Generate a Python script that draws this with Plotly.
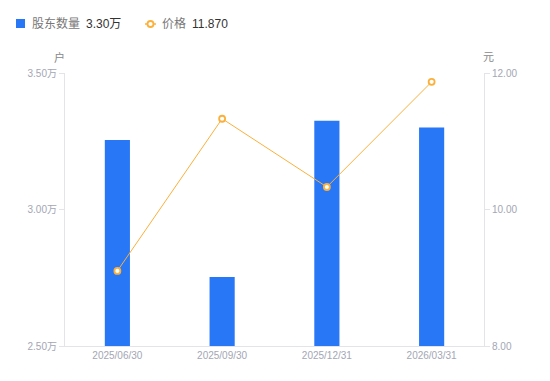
import plotly.graph_objects as go

dates = ["2025/06/30", "2025/09/30", "2025/12/31", "2026/03/31"]
holders = [3.255, 2.753, 3.325, 3.30]   # 万户
price = [9.10, 11.33, 10.33, 11.87]      # 元
left_ticks = [2.5, 3.0, 3.5]
left_labels = ["2.50万", "3.00万", "3.50万"]
right_ticks = [8, 10, 12]
right_labels = ["8.00", "10.00", "12.00"]

BLUE = "#2777F6"
ORANGE = "#FBB03B"
AXIS = "#E3E3E8"
TICK = "#A3A6B4"
FONT = "Liberation Sans, Noto Sans CJK SC, sans-serif"

W, H = 550, 381
OFF = 8  # page body margin
# plot area in screen pixels
SX0, SX1, SY0, SY1 = 65, 484, 73, 346
L, T = SX0 - OFF, SY0 - OFF
R, B = W - (SX1 - OFF), H - (SY1 - OFF)
pw, ph = SX1 - SX0, SY1 - SY0

def px(x):
    return (x - SX0) / pw

def py(y):
    return (SY1 - y) / ph

fig = go.Figure()
fig.add_trace(go.Bar(x=dates, y=holders, marker=dict(color=BLUE, line_width=0),
                     width=0.24, name="股东数量", yaxis="y"))
fig.add_trace(go.Scatter(x=dates, y=price, mode="lines+markers", name="价格", yaxis="y2",
                         line=dict(color=ORANGE, width=1),
                         marker=dict(size=6, color="white", line=dict(color=ORANGE, width=1.8))))

fig.update_layout(
    width=W, height=H, margin=dict(l=L, r=R, t=T, b=B),
    paper_bgcolor="white", plot_bgcolor="white", showlegend=False,
    font=dict(family=FONT, size=10, color=TICK),
    xaxis=dict(type="category", showgrid=False, showline=True, linecolor=AXIS, linewidth=1,
               ticks="", tickfont=dict(size=10, color=TICK), zeroline=False),
    yaxis=dict(range=[2.5, 3.5], tickvals=left_ticks, ticktext=left_labels, showgrid=False,
               showline=True, linecolor=AXIS, ticks="outside", ticklen=5, tickcolor=AXIS,
               tickfont=dict(size=10, color=TICK), zeroline=False),
    yaxis2=dict(range=[8, 12], tickvals=right_ticks, ticktext=right_labels, overlaying="y",
                side="right", showgrid=False, showline=True, linecolor=AXIS, ticks="outside",
                ticklen=5, tickcolor=AXIS, tickfont=dict(size=10, color=TICK), zeroline=False),
)

# axis unit titles
fig.add_annotation(text="户", xref="paper", yref="paper", x=px(59), y=py(57), showarrow=False,
                   font=dict(size=11, color="#888"), xanchor="center", yanchor="middle")
fig.add_annotation(text="元", xref="paper", yref="paper", x=px(489), y=py(57), showarrow=False,
                   font=dict(size=11, color="#888"), xanchor="center", yanchor="middle")

# legend
fig.add_shape(type="rect", xref="paper", yref="paper", x0=px(16), x1=px(25), y0=py(28), y1=py(19),
              fillcolor=BLUE, line_width=0)
fig.add_annotation(text="股东数量", xref="paper", yref="paper", x=px(30), y=py(24), showarrow=False,
                   font=dict(size=12, color="#777"), xanchor="left", yanchor="middle")
fig.add_annotation(text="3.30万", xref="paper", yref="paper", x=px(84), y=py(24), showarrow=False,
                   font=dict(size=12, color="#333"), xanchor="left", yanchor="middle")
fig.add_shape(type="line", xref="paper", yref="paper", x0=px(145), x1=px(156), y0=py(24), y1=py(24),
              line=dict(color=ORANGE, width=1.5))
fig.add_shape(type="circle", xref="paper", yref="paper", x0=px(147.5), x1=px(153.5), y0=py(27), y1=py(21),
              fillcolor="white", line=dict(color=ORANGE, width=1.8))
fig.add_annotation(text="价格", xref="paper", yref="paper", x=px(160), y=py(24), showarrow=False,
                   font=dict(size=12, color="#777"), xanchor="left", yanchor="middle")
fig.add_annotation(text="11.870", xref="paper", yref="paper", x=px(190), y=py(24), showarrow=False,
                   font=dict(size=12, color="#333"), xanchor="left", yanchor="middle")

fig.write_html("out.html")
